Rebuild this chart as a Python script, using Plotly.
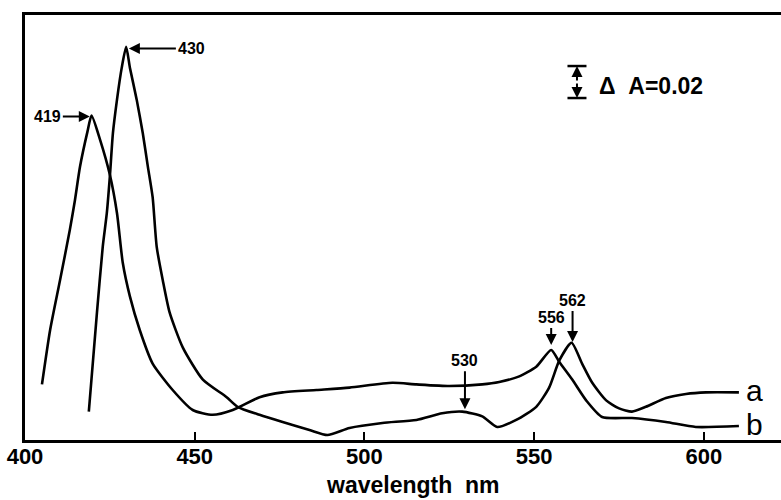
import plotly.graph_objects as go

# Curve a (Soret 430, alpha 562, shoulder 530)
wl_a = [418.8, 421.2, 422.9, 424.1, 425.0, 425.9, 427.1, 428.5, 429.8, 430.9, 432.9, 434.7,
        436.2, 437.6, 438.8, 440.6, 442.6, 446.5, 452.4, 459.4, 462.6, 469.1, 475.9, 483.8,
        489.1, 495.6, 505.3, 515.3, 522.9, 528.8, 534.7, 539.1, 544.7, 550.6, 554.4, 557.4,
        561.0, 564.1, 567.1, 571.2, 575.0, 578.8, 582.9, 588.8, 594.7, 600.6, 610.3]
abs_a = [0.019, 0.081, 0.122, 0.143, 0.166, 0.193, 0.214, 0.234, 0.247, 0.234, 0.214, 0.193,
         0.172, 0.153, 0.122, 0.101, 0.081, 0.059, 0.039, 0.028, 0.022, 0.017, 0.0125, 0.0075,
         0.0044, 0.0088, 0.0119, 0.0138, 0.018, 0.019, 0.016, 0.0094, 0.0138, 0.022, 0.034, 0.051,
         0.062, 0.049, 0.037, 0.026, 0.021, 0.019, 0.022, 0.0275, 0.030, 0.031, 0.031]

# Curve b (Soret 419, alpha 556)
wl_b = [405.0, 407.4, 410.3, 413.2, 414.7, 416.2, 418.4, 419.6, 422.1, 425.0, 427.1, 428.8,
        430.9, 433.8, 437.6, 443.5, 449.4, 455.3, 461.2, 469.1, 475.9, 485.9, 495.6, 508.2,
        515.3, 525.0, 534.7, 539.7, 545.6, 550.6, 555.0, 557.4, 561.2, 565.3, 570.0, 578.8,
        588.8, 597.6, 610.3]
abs_b = [0.036, 0.070, 0.101, 0.1325, 0.151, 0.172, 0.194, 0.204, 0.189, 0.167, 0.143, 0.112,
         0.091, 0.070, 0.049, 0.0325, 0.020, 0.017, 0.020, 0.028, 0.031, 0.0325, 0.034, 0.037,
         0.036, 0.035, 0.036, 0.0375, 0.041, 0.047, 0.0575, 0.050, 0.039, 0.026, 0.0156, 0.015,
         0.0125, 0.0094, 0.010]

x_ticks = [400, 450, 500, 550, 600]
tick_labels = ["400", "450", "500", "550", "600"]

FONT = "Liberation Sans"
fig = go.Figure()
for wl, ab in ((wl_a, abs_a), (wl_b, abs_b)):
    fig.add_trace(go.Scatter(x=wl, y=ab, mode="lines",
                             line=dict(color="black", width=2.6, shape="spline", smoothing=0.6),
                             showlegend=False, hoverinfo="skip"))

ann = []
lab_font = dict(family=FONT, size=16, color="black", weight="bold")
arrow = dict(showarrow=True, arrowhead=2, arrowsize=1.1, arrowwidth=2, arrowcolor="black", standoff=0)
ann.append(dict(x=419.1, y=0.2035, text="419", ax=-27, ay=0, xanchor="right", font=lab_font, **arrow))
ann.append(dict(x=430.6, y=0.246, text="430", ax=47, ay=0, xanchor="left", font=lab_font, **arrow))
ann.append(dict(x=529.6, y=0.0205, text="530", ax=0, ay=-38, yanchor="bottom", font=lab_font, **arrow))
ann.append(dict(x=555.0, y=0.0606, text="556", ax=0, ay=-17, yanchor="bottom", font=lab_font, **arrow))
ann.append(dict(x=561.3, y=0.0625, text="562", ax=0, ay=-31, yanchor="bottom", font=lab_font, **arrow))

big = dict(family=FONT, size=30, color="black")
ann.append(dict(x=611.8, y=0.032, text="a", showarrow=False, xanchor="left", font=big))
ann.append(dict(x=611.8, y=0.011, text="b", showarrow=False, xanchor="left", font=big))

# scale bar arrows
ann.append(dict(x=562.6, y=0.235, ax=0, ay=16, text="", **arrow))
ann.append(dict(x=562.6, y=0.215, ax=0, ay=-16, text="", **arrow))
ann.append(dict(x=568.6, y=0.2225, text="Δ  A=0.02", showarrow=False, xanchor="left",
                font=dict(family=FONT, size=23, color="black", weight="bold")))

ann.append(dict(x=0.513, y=-0.106, xref="paper", yref="paper", text="wavelength  nm",
                yanchor="middle", xanchor="center",
                showarrow=False, font=dict(family=FONT, size=23, color="black", weight="bold")))

shapes = [
    dict(type="line", x0=559.8, x1=565.4, y0=0.235, y1=0.235, line=dict(color="black", width=2.5)),
    dict(type="line", x0=559.8, x1=565.4, y0=0.215, y1=0.215, line=dict(color="black", width=2.5)),
]

fig.update_layout(
    width=781, height=500,
    margin=dict(l=25, r=0, t=15, b=60),
    paper_bgcolor="white", plot_bgcolor="white",
    annotations=ann, shapes=shapes,
    xaxis=dict(range=[400, 622.7], tickvals=x_ticks, ticktext=tick_labels,
               ticks="inside", ticklen=8, tickwidth=2, tickcolor="black",
               showline=True, linecolor="black", linewidth=3, mirror=True,
               showgrid=False, zeroline=False, ticklabelstandoff=-5,
               ticklabeloverflow="allow",
               tickfont=dict(family=FONT, size=22, color="black", weight="bold")),
    yaxis=dict(range=[0.00125, 0.2669], showticklabels=False, ticks="",
               showline=True, linecolor="black", linewidth=3, mirror=False,
               showgrid=False, zeroline=False),
)

fig.write_html("out.html", config={"displayModeBar": False},
               post_script="document.body.style.margin='0';document.body.style.overflow='hidden';")
